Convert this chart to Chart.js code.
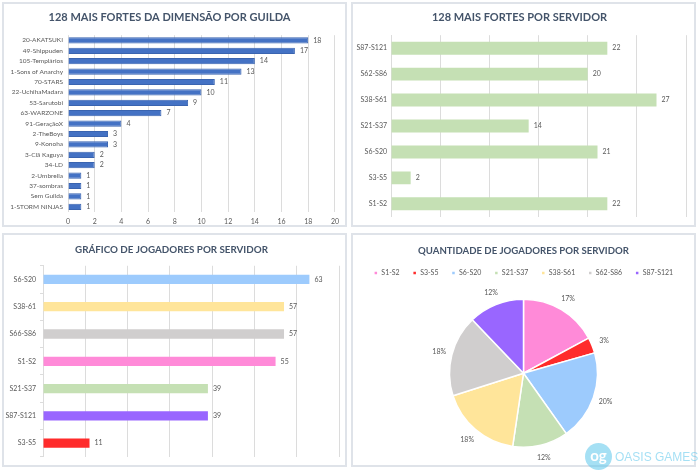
<!DOCTYPE html>
<html>
<head>
<meta charset="utf-8">
<script src="https://cdn.jsdelivr.net/npm/chart.js@4/dist/chart.umd.min.js"></script>
<style>
  body { margin: 0; background: #fff; width: 700px; height: 470px; position: relative; overflow: hidden; font-family: Lato, sans-serif; }
  .panel { position: absolute; border: 2px solid #dfe3e9; background: #fff; }
  .panel canvas { position: absolute; left: 0; top: 0; }
  .logo { position: absolute; left: 585px; top: 443px; width: 115px; height: 28px; opacity: 0.55; }
  .logo .ring { position: absolute; left: 0; top: 0; width: 27px; height: 27px; border-radius: 50%; background: #5cc6ec; color: #fff; font: bold 15px Lato, sans-serif; line-height: 25px; text-align: center; }
  .logo .name { position: absolute; left: 30px; top: 7px; color: #5cc6ec; font: 12px "Liberation Sans", sans-serif; white-space: nowrap; }
</style>
</head>
<body>
<div class="panel" style="left:2px;top:2px;width:341px;height:221px"><canvas id="guildChart" width="341" height="221"></canvas></div>
<div class="panel" style="left:351px;top:2px;width:341px;height:221px"><canvas id="serverTopChart" width="341" height="221"></canvas></div>
<div class="panel" style="left:2px;top:233px;width:341px;height:230px"><canvas id="playersBarChart" width="341" height="230"></canvas></div>
<div class="panel" style="left:351px;top:233px;width:341px;height:230px"><canvas id="playersPieChart" width="341" height="230"></canvas></div>
<div class="logo"><div class="ring">og</div><div class="name">OASIS GAMES</div></div>

<script>
// data
const guildLabels = ['20-AKATSUKI', '49-Shippuden', '105-Templários', '1-Sons of Anarchy', '70-STARS',
    '22-UchihaMadara', '53-Sarutobi', '63-WARZONE', '91-GeraçãoX', '2-TheBoys', '9-Konoha',
    '3-Clã Kaguya', '34-LD', '2-Umbrella', '37-sombras', 'Sem Guilda', '1-STORM NINJAS'];
const guildValues = [18, 17, 14, 13, 11, 10, 9, 7, 4, 3, 3, 2, 2, 1, 1, 1, 1];

const topServerLabels = ['S87-S121', 'S62-S86', 'S38-S61', 'S21-S37', 'S6-S20', 'S3-S5', 'S1-S2'];
const topServerValues = [22, 20, 27, 14, 21, 2, 22];

const playerBarLabels = ['S6-S20', 'S38-61', 'S66-S86', 'S1-S2', 'S21-S37', 'S87-S121', 'S3-S5'];
const playerBarValues = [63, 57, 57, 55, 39, 39, 11];
const playerBarColors = ['#9dcbfd', '#ffe59a', '#d0cece', '#ff8ad8', '#c5e0b4', '#9966ff', '#ff2b2b'];

const pieLabels = ['S1-S2', 'S3-S5', 'S6-S20', 'S21-S37', 'S38-S61', 'S62-S86', 'S87-S121'];
const pieValues = [55, 11, 63, 39, 57, 57, 39];
const pieColors = ['#ff8ad8', '#ff2b2b', '#9dcbfd', '#c5e0b4', '#ffe59a', '#d0cece', '#9966ff'];

const FONT = 'Lato, sans-serif';
const TEXT = '#595959';
const GRID = '#dcdcdc';
const SMALL = 7;

const titleOpts = (text, size, top, bottom) => ({
    display: true,
    text: text,
    color: '#44546a',
    font: { family: FONT, size: size, weight: 'bold' },
    padding: { top: top, bottom: bottom }
});

// value labels next to the end of each bar
const barValueLabels = {
    id: 'barValueLabels',
    afterDatasetsDraw(chart) {
        const ctx = chart.ctx;
        const meta = chart.getDatasetMeta(0);
        const data = chart.data.datasets[0].data;
        ctx.save();
        ctx.font = SMALL + 'px ' + FONT;
        ctx.fillStyle = TEXT;
        ctx.textBaseline = 'middle';
        ctx.textAlign = 'left';
        meta.data.forEach((bar, i) => ctx.fillText(data[i], bar.x + 5, bar.y));
        ctx.restore();
    }
};

// percent labels outside the pie
const pieValueLabels = {
    id: 'pieValueLabels',
    afterDatasetsDraw(chart) {
        const ctx = chart.ctx;
        const meta = chart.getDatasetMeta(0);
        const data = chart.data.datasets[0].data;
        const total = data.reduce((a, b) => a + b, 0);
        ctx.save();
        ctx.font = SMALL + 'px ' + FONT;
        ctx.fillStyle = TEXT;
        ctx.textBaseline = 'middle';
        ctx.textAlign = 'center';
        meta.data.forEach((arc, i) => {
            const mid = (arc.startAngle + arc.endAngle) / 2;
            const r = arc.outerRadius + 13;
            ctx.fillText(Math.round(data[i] / total * 100) + '%', arc.x + Math.cos(mid) * r, arc.y + Math.sin(mid) * r);
        });
        ctx.restore();
    }
};

function fixWidth(w) { return scale => { scale.width = w; }; }
function fixHeight(h) { return scale => { scale.height = h; }; }

new Chart(document.getElementById('guildChart'), {
    type: 'bar',
    data: {
        labels: guildLabels,
        datasets: [{
            data: guildValues,
            backgroundColor: '#4472c4',
            borderColor: '#3a64b0',
            borderWidth: 1,
            categoryPercentage: 1,
            barPercentage: 0.6
        }]
    },
    options: {
        indexAxis: 'y',
        responsive: false,
        animation: false,
        devicePixelRatio: 1,
        layout: { padding: { left: 0, right: 10, top: 0, bottom: 0 } },
        plugins: { legend: { display: false }, tooltip: { enabled: false }, title: titleOpts('128 MAIS FORTES DA DIMENSÃO POR GUILDA', 11, 7, 11) },
        scales: {
            x: {
                min: 0, max: 20,
                ticks: { stepSize: 2, color: TEXT, font: { family: FONT, size: SMALL }, padding: 6 },
                grid: { color: GRID, drawTicks: false },
                border: { display: false },
                afterFit: fixHeight(13)
            },
            y: {
                ticks: { color: TEXT, font: { family: FONT, size: 6.5 }, padding: 5, autoSkip: false },
                grid: { display: false, drawTicks: false },
                border: { display: false },
                afterFit: fixWidth(64)
            }
        }
    },
    plugins: [barValueLabels]
});

new Chart(document.getElementById('serverTopChart'), {
    type: 'bar',
    data: {
        labels: topServerLabels,
        datasets: [{
            data: topServerValues,
            backgroundColor: '#c5e0b4',
            categoryPercentage: 1,
            barPercentage: 0.5
        }]
    },
    options: {
        indexAxis: 'y',
        responsive: false,
        animation: false,
        devicePixelRatio: 1,
        layout: { padding: { left: 0, right: 8, top: 0, bottom: 2 } },
        plugins: { legend: { display: false }, tooltip: { enabled: false }, title: titleOpts('128 MAIS FORTES POR SERVIDOR', 11, 7, 11) },
        scales: {
            x: {
                min: 0, max: 30,
                ticks: { stepSize: 5, display: false },
                grid: { color: GRID, drawTicks: false },
                border: { display: false },
                afterFit: fixHeight(0)
            },
            y: {
                ticks: { color: TEXT, font: { family: FONT, size: SMALL }, padding: 4 },
                grid: { display: false, drawTicks: false },
                border: { display: true, color: GRID },
                afterFit: fixWidth(38)
            }
        }
    },
    plugins: [barValueLabels]
});

new Chart(document.getElementById('playersBarChart'), {
    type: 'bar',
    data: {
        labels: playerBarLabels,
        datasets: [{
            data: playerBarValues,
            backgroundColor: playerBarColors,
            categoryPercentage: 1,
            barPercentage: 0.34
        }]
    },
    options: {
        indexAxis: 'y',
        responsive: false,
        animation: false,
        devicePixelRatio: 1,
        layout: { padding: { left: 0, right: 6, top: 0, bottom: 8 } },
        plugins: { legend: { display: false }, tooltip: { enabled: false }, title: titleOpts('GRÁFICO DE JOGADORES POR SERVIDOR', 9.8, 9, 10) },
        scales: {
            x: {
                min: 0, max: 70,
                ticks: { stepSize: 10, display: false },
                grid: { color: GRID, drawTicks: false },
                border: { display: false },
                afterFit: fixHeight(0)
            },
            y: {
                ticks: { color: TEXT, font: { family: FONT, size: SMALL }, padding: 4 },
                grid: { display: true, drawOnChartArea: false, tickLength: 3, color: GRID },
                border: { display: true, color: GRID },
                afterFit: fixWidth(39)
            }
        }
    },
    plugins: [barValueLabels]
});

new Chart(document.getElementById('playersPieChart'), {
    type: 'pie',
    data: {
        labels: pieLabels,
        datasets: [{
            data: pieValues,
            backgroundColor: pieColors,
            borderColor: '#ffffff',
            borderWidth: 1.5,
            radius: 74
        }]
    },
    options: {
        responsive: false,
        animation: false,
        devicePixelRatio: 1,
        layout: { padding: { left: 0, right: 0, top: 0, bottom: 5 } },
        plugins: {
            tooltip: { enabled: false },
            title: titleOpts('QUANTIDADE DE JOGADORES POR SERVIDOR', 9.6, 10, 0),
            legend: {
                position: 'top',
                labels: { boxWidth: 4, boxHeight: 4, padding: 13, color: TEXT, font: { family: FONT, size: SMALL } }
            }
        }
    },
    plugins: [pieValueLabels]
});
</script>
</body>
</html>
